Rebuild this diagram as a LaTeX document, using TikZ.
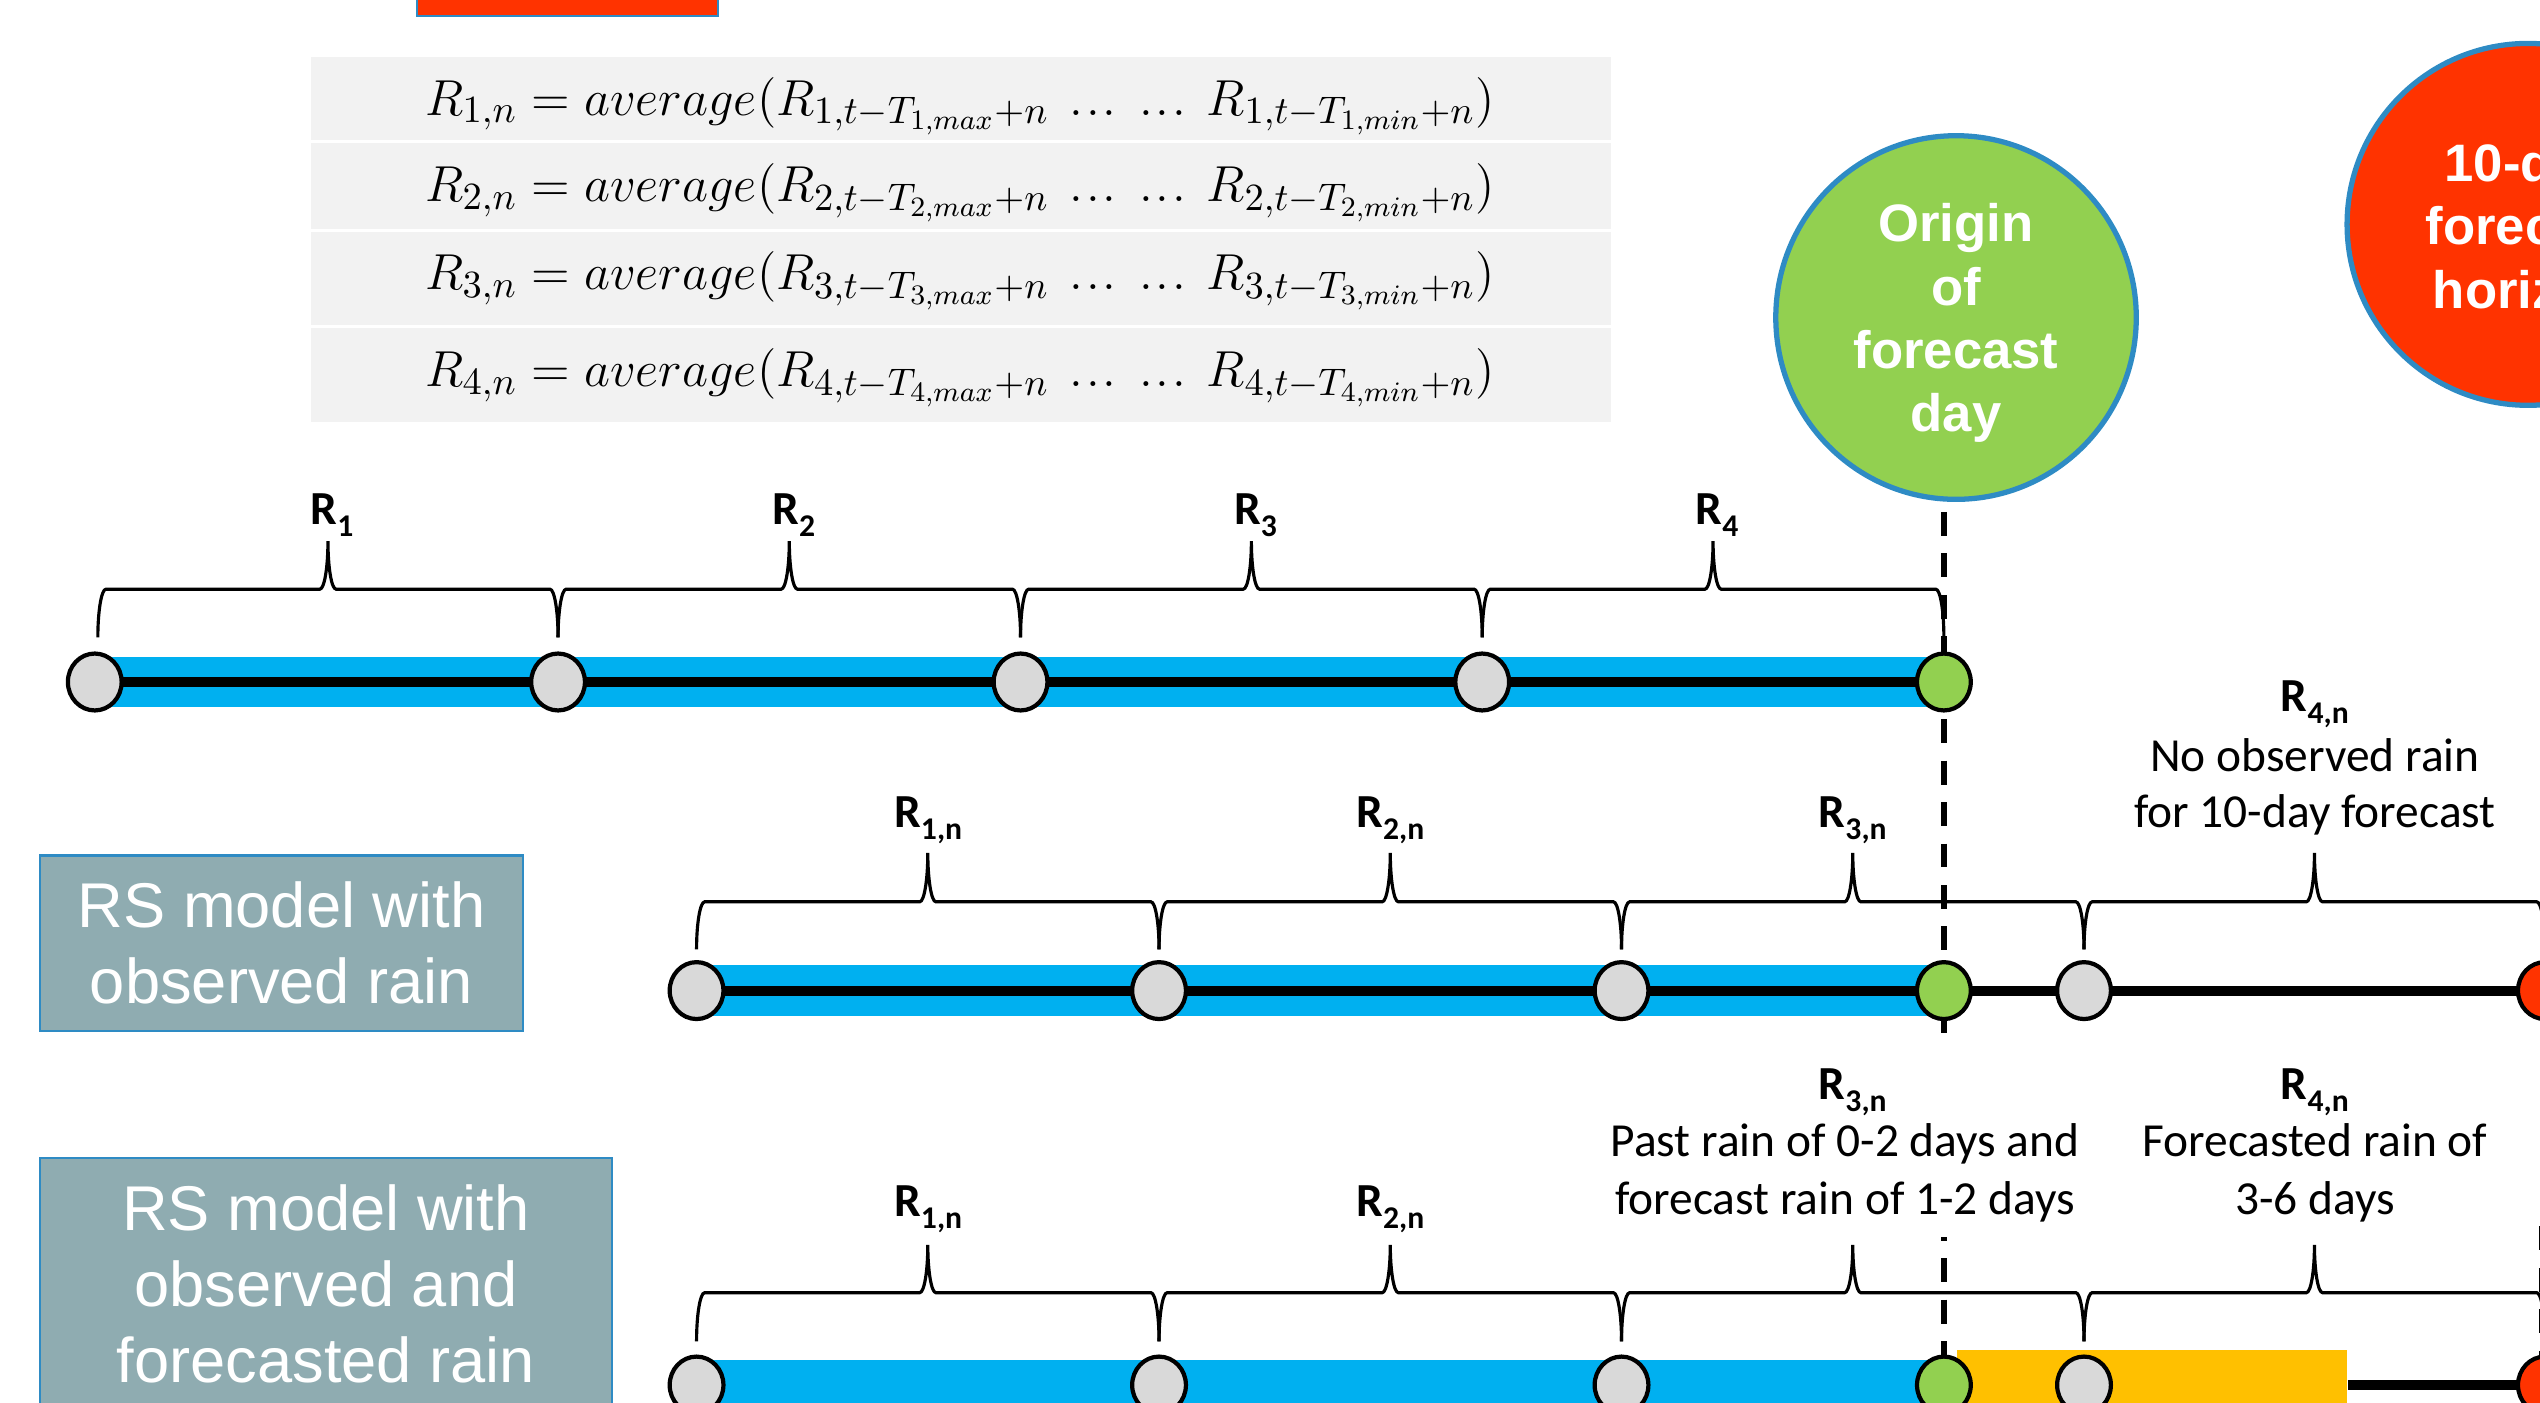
\documentclass[tikz,border=0pt]{standalone}
\usepackage[no-math]{fontspec}
\setmainfont{Carlito}
\newfontfamily\arialfont{Liberation Sans}
\newfontfamily\calfont{Carlito}
\usetikzlibrary{shapes.geometric}
\definecolor{ptred}{HTML}{FF3300}
\definecolor{ptgreen}{HTML}{92D050}
\definecolor{ptblue}{HTML}{00B0F0}
\definecolor{ptorange}{HTML}{FFC000}
\definecolor{ptgray}{HTML}{D9D9D9}
\definecolor{ptoutline}{RGB}{46,139,196}
\definecolor{boxfill}{RGB}{143,172,177}
\definecolor{eqgray}{HTML}{F2F2F2}
\pgfdeclarelayer{bg}
\pgfsetlayers{bg,main}
\newcommand\Rsub[1]{R\raisebox{-3.3pt}{\fontsize{9}{10}\selectfont #1}}
\newcommand\dts{\mathinner{.\mkern1mu.\mkern1mu.}}
% brace: x0 x1 yEnd yLine yTip
\newcommand\brc[5]{%
 \draw[bracel] (#1,#3) .. controls (#1,{#3-0.5523*(#3-#4)}) and ({#1+5-0.5523*5},#4) .. ({#1+5},#4)
 -- ({(#1+#2)/2-5},#4) .. controls ({(#1+#2)/2-5+0.5523*5},#4) and ({(#1+#2)/2},{#5+0.5523*(#4-#5)}) .. ({(#1+#2)/2},#5)
 .. controls ({(#1+#2)/2},{#5+0.5523*(#4-#5)}) and ({(#1+#2)/2+5-0.5523*5},#4) .. ({(#1+#2)/2+5},#4)
 -- ({#2-5},#4) .. controls ({#2-5+0.5523*5},#4) and (#2,{#3-0.5523*(#3-#4)}) .. (#2,#3);}
\begin{document}
\begin{tikzpicture}[x=0.0162cm,y=-0.0162cm,
  tnode/.style={ellipse,draw=black,line width=1.2pt,minimum width=15.3pt,minimum height=16.2pt,inner sep=0pt},
  gnode/.style={tnode,fill=ptgray},
  onode/.style={tnode,fill=ptgreen},
  rnode/.style={tnode,fill=ptred},
  band/.style={line width=14.5pt,ptblue},
  tline/.style={line width=2.85pt,black},
  bracel/.style={line width=0.9pt,black},
  dashl/.style={line width=1.7pt,black,dash pattern=on 6.8pt off 5pt},
  bigc/.style={ellipse,draw=ptoutline,line width=1.5pt,inner sep=0pt},
  bigtxt/.style={inner sep=0pt,text=white,align=center,font=\arialfont\bfseries\fontsize{15}{18}\selectfont},
  lbox/.style={rectangle,draw=ptoutline,line width=0.6pt,fill=boxfill,text=white,align=center,inner sep=0pt,
     font=\arialfont\fontsize{18}{21.6}\selectfont},
  eqrow/.style={rectangle,fill=eqgray,inner sep=0pt,minimum width=370pt},
  eqtxt/.style={anchor=base,inner sep=0pt,font=\fontsize{15.5}{18}\selectfont},
  rlab/.style={anchor=base,inner sep=0pt,font=\calfont\bfseries\fontsize{13.5}{16.3}\selectfont},
  dtxt/.style={anchor=base,inner sep=0pt,font=\calfont\fontsize{13.5}{16.3}\selectfont}]
\useasboundingbox (0,0) rectangle (1568,866);
\clip (0,0) rectangle (1568,866);

% top red rectangle
\node[rectangle,draw=ptoutline,line width=0.6pt,fill=ptred,minimum width=85.7pt,minimum height=20pt,inner sep=0pt] (topbox) at (350.5,-12) {};

% equation rows
\node[eqrow,minimum height=23.7pt] (row1) at (593.5,60.75) {};
\node[eqrow,minimum height=24.6pt] (row2) at (593.5,114.75) {};
\node[eqrow,minimum height=26.5pt] (row3) at (593.5,171.75) {};
\node[eqrow,minimum height=26.7pt] (row4) at (593.5,231.5) {};
\node[eqtxt] (eq1) at (592.5,71) {$R_{1,n}=average(R_{1,t-T_{1,max}+n}\ \dts\;\dts\ R_{1,t-T_{1,min}+n})$};
\node[eqtxt] (eq2) at (592.5,124.5) {$R_{2,n}=average(R_{2,t-T_{2,max}+n}\ \dts\;\dts\ R_{2,t-T_{2,min}+n})$};
\node[eqtxt] (eq3) at (592.5,179) {$R_{3,n}=average(R_{3,t-T_{3,max}+n}\ \dts\;\dts\ R_{3,t-T_{3,min}+n})$};
\node[eqtxt] (eq4) at (592.5,238.7) {$R_{4,n}=average(R_{4,t-T_{4,max}+n}\ \dts\;\dts\ R_{4,t-T_{4,min}+n})$};

% big circles
\node[bigc,fill=ptgreen,minimum width=102.6pt,minimum height=103.5pt] (origin) at (1207.5,196) {};
\node[bigtxt] (origintxt) at (1207.5,199.5) {Origin\\of\\forecast\\day};
\node[bigc,fill=ptred,minimum width=103pt,minimum height=103pt] (horizon) at (1560.6,138.5) {};
\node[bigtxt] (horizontxt) at (1560.6,139.5) {10-day\\forecast\\horizon};

% left boxes
\node[lbox,minimum width=137.5pt,minimum height=50pt] (box1) at (173.8,582.3) {RS model with\\observed rain};
\node[lbox,minimum width=162.8pt,minimum height=71.4pt] (box2) at (201.2,792.5) {RS model with\\observed and\\forecasted rain};

% timeline nodes
\node[gnode] (a1) at (58.5,421) {};
\node[gnode] (a2) at (344.5,421) {};
\node[gnode] (a3) at (630,421) {};
\node[gnode] (a4) at (915,421) {};
\node[onode] (a5) at (1200,421) {};

\node[gnode] (b1) at (430,611.5) {};
\node[gnode] (b2) at (715.5,611.5) {};
\node[gnode] (b3) at (1001,611.5) {};
\node[onode] (b4) at (1200,611.5) {};
\node[gnode] (b5) at (1286.5,611.5) {};
\node[rnode] (b6) at (1571,611.5) {};

\node[rectangle,fill=ptorange,inner sep=0pt,minimum width=111pt,minimum height=20pt] (orng) at (1328.5,855) {};
\node[gnode] (c1) at (430,855) {};
\node[gnode] (c2) at (715.5,855) {};
\node[gnode] (c3) at (1001,855) {};
\node[onode] (c4) at (1200,855) {};
\node[gnode] (c5) at (1286.5,855) {};
\node[rnode] (c6) at (1571,855) {};

\coordinate (dtop) at (1200,316);
\coordinate (dbot) at (1200,900);
\coordinate (rtop) at (1569.5,757);
\coordinate (rbot) at (1569.5,900);

\begin{pgfonlayer}{bg}
 \draw[band] (a1.center) -- (a5.center);
 \draw[tline] (a1.center) -- (a5.center);
 \draw[band] (b1.center) -- (b4.center);
 \draw[tline] (b1.center) -- (b6.center);
 \draw[band] (c1.center) -- (c4.center);
 \draw[tline] (orng.east) -- (c6.center);
 \draw[dashl] (dtop) -- (dbot);
 \draw[dashl] (rtop) -- (rbot);
\end{pgfonlayer}

% braces
\brc{60.4}{344.5}{393.5}{363.7}{334}
\brc{344.5}{630}{393.5}{363.7}{334}
\brc{630}{915}{393.5}{363.7}{334}
\brc{915}{1200}{393.5}{363.7}{334}

\brc{430}{715.5}{586}{556.7}{526.5}
\brc{715.5}{1001}{586}{556.7}{526.5}
\brc{1001}{1286.5}{586}{556.7}{526.5}
\brc{1286.5}{1571}{586}{556.7}{526.5}

\brc{430}{715.5}{828}{798}{768.5}
\brc{715.5}{1001}{828}{798}{768.5}
\brc{1001}{1286.5}{828}{798}{768.5}
\brc{1286.5}{1571}{828}{798}{768.5}

% labels timeline 1
\node[rlab] (l1) at (205,324) {\Rsub{1}};
\node[rlab] (l2) at (490,324) {\Rsub{2}};
\node[rlab] (l3) at (775,324) {\Rsub{3}};
\node[rlab] (l4) at (1060,324) {\Rsub{4}};

% labels timeline 2
\node[rlab] (m1) at (573,511) {\Rsub{1,n}};
\node[rlab] (m2) at (858.3,511) {\Rsub{2,n}};
\node[rlab] (m3) at (1143.7,511) {\Rsub{3,n}};
\node[rlab] (m4) at (1429,439.4) {\Rsub{4,n}};
\node[dtxt] (m4a) at (1429,476) {No observed rain};
\node[dtxt] (m4b) at (1429,511) {for 10-day forecast};

% labels timeline 3 (the text box is white and hides the dashed line)
\node[rectangle,fill=white,inner sep=0pt,minimum width=140pt,minimum height=56.6pt] (n3box) at (1140,702.5) {};
\node[rlab] (n1) at (573,751) {\Rsub{1,n}};
\node[rlab] (n2) at (858.3,751) {\Rsub{2,n}};
\node[rlab] (n3) at (1143.7,679) {\Rsub{3,n}};
\node[dtxt] (n3a) at (1139,714) {Past rain of 0-2 days and};
\node[dtxt] (n3b) at (1139,750) {forecast rain of 1-2 days};
\node[rlab] (n4) at (1429,679) {\Rsub{4,n}};
\node[dtxt] (n4a) at (1429,714) {Forecasted rain of};
\node[dtxt] (n4b) at (1429,750) {3-6 days};
\end{tikzpicture}
\end{document}
